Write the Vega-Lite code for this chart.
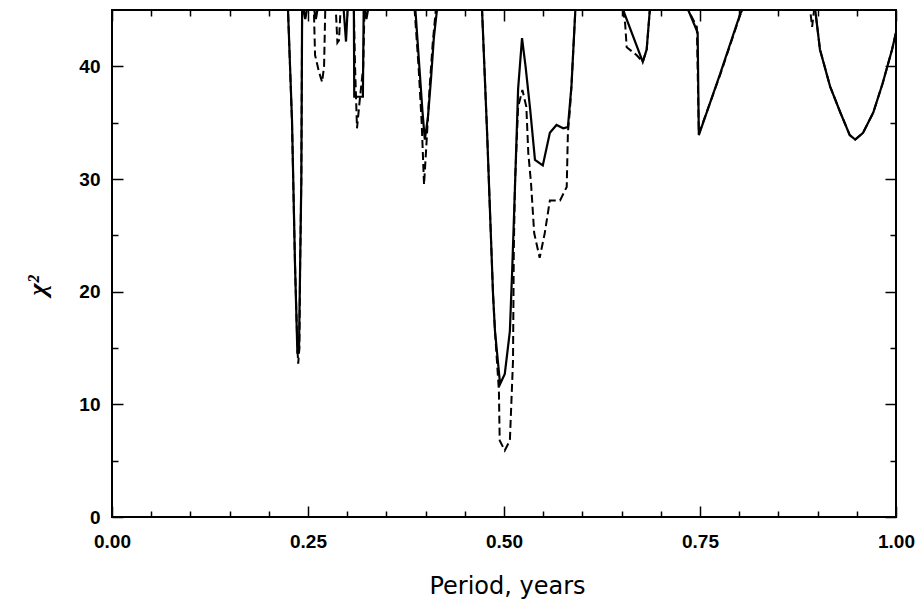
{
  "$schema": "https://vega.github.io/schema/vega-lite/v6.json",
  "description": "Chi-squared versus trial period for two fits (solid and dashed).",
  "width": 784,
  "height": 507,
  "autosize": "none",
  "padding": {"left": 112, "top": 10, "right": 21, "bottom": 85},
  "background": "white",
  "config": {
    "view": {"stroke": "black", "strokeWidth": 2},
    "axis": {
      "domain": false,
      "grid": false,
      "tickColor": "black",
      "tickWidth": 1.5,
      "labelFont": "Liberation Sans",
      "labelFontWeight": "bold",
      "labelFontSize": 19,
      "labelColor": "black",
      "titleColor": "black"
    }
  },
  "data": {
    "values": [
      {"period": 0, "chi2": 45, "curve": "solid"},
      {"period": 0.2245, "chi2": 45, "curve": "solid"},
      {"period": 0.2296, "chi2": 35.2, "curve": "solid"},
      {"period": 0.2334, "chi2": 22.5, "curve": "solid"},
      {"period": 0.2365, "chi2": 14.5, "curve": "solid"},
      {"period": 0.2385, "chi2": 14.8, "curve": "solid"},
      {"period": 0.24, "chi2": 22.5, "curve": "solid"},
      {"period": 0.2415, "chi2": 30, "curve": "solid"},
      {"period": 0.2425, "chi2": 45, "curve": "solid"},
      {"period": 0.2445, "chi2": 45, "curve": "solid"},
      {"period": 0.2465, "chi2": 44.2, "curve": "solid"},
      {"period": 0.2485, "chi2": 45, "curve": "solid"},
      {"period": 0.258, "chi2": 45, "curve": "solid"},
      {"period": 0.26, "chi2": 44.2, "curve": "solid"},
      {"period": 0.262, "chi2": 45, "curve": "solid"},
      {"period": 0.2955, "chi2": 45, "curve": "solid"},
      {"period": 0.2985, "chi2": 42.2, "curve": "solid"},
      {"period": 0.3005, "chi2": 45, "curve": "solid"},
      {"period": 0.3085, "chi2": 45, "curve": "solid"},
      {"period": 0.309, "chi2": 37.3, "curve": "solid"},
      {"period": 0.32, "chi2": 37.3, "curve": "solid"},
      {"period": 0.321, "chi2": 45, "curve": "solid"},
      {"period": 0.3225, "chi2": 45, "curve": "solid"},
      {"period": 0.3245, "chi2": 44.2, "curve": "solid"},
      {"period": 0.3265, "chi2": 45, "curve": "solid"},
      {"period": 0.387, "chi2": 45, "curve": "solid"},
      {"period": 0.392, "chi2": 40, "curve": "solid"},
      {"period": 0.396, "chi2": 36, "curve": "solid"},
      {"period": 0.399, "chi2": 33.5, "curve": "solid"},
      {"period": 0.403, "chi2": 35.5, "curve": "solid"},
      {"period": 0.407, "chi2": 39, "curve": "solid"},
      {"period": 0.4105, "chi2": 42.5, "curve": "solid"},
      {"period": 0.4145, "chi2": 45, "curve": "solid"},
      {"period": 0.472, "chi2": 45, "curve": "solid"},
      {"period": 0.4785, "chi2": 34, "curve": "solid"},
      {"period": 0.486, "chi2": 19.8, "curve": "solid"},
      {"period": 0.4885, "chi2": 16.5, "curve": "solid"},
      {"period": 0.495, "chi2": 11.8, "curve": "solid"},
      {"period": 0.501, "chi2": 12.7, "curve": "solid"},
      {"period": 0.5075, "chi2": 16.5, "curve": "solid"},
      {"period": 0.5105, "chi2": 22, "curve": "solid"},
      {"period": 0.514, "chi2": 29.3, "curve": "solid"},
      {"period": 0.518, "chi2": 38, "curve": "solid"},
      {"period": 0.523, "chi2": 42.5, "curve": "solid"},
      {"period": 0.5275, "chi2": 40, "curve": "solid"},
      {"period": 0.5335, "chi2": 36.1, "curve": "solid"},
      {"period": 0.5395, "chi2": 31.7, "curve": "solid"},
      {"period": 0.5495, "chi2": 31.2, "curve": "solid"},
      {"period": 0.5585, "chi2": 34.1, "curve": "solid"},
      {"period": 0.567, "chi2": 34.8, "curve": "solid"},
      {"period": 0.5755, "chi2": 34.5, "curve": "solid"},
      {"period": 0.5815, "chi2": 34.6, "curve": "solid"},
      {"period": 0.586, "chi2": 38.2, "curve": "solid"},
      {"period": 0.591, "chi2": 45, "curve": "solid"},
      {"period": 0.652, "chi2": 45, "curve": "solid"},
      {"period": 0.677, "chi2": 40.4, "curve": "solid"},
      {"period": 0.682, "chi2": 41.5, "curve": "solid"},
      {"period": 0.686, "chi2": 45, "curve": "solid"},
      {"period": 0.735, "chi2": 45, "curve": "solid"},
      {"period": 0.747, "chi2": 43, "curve": "solid"},
      {"period": 0.7485, "chi2": 33.9, "curve": "solid"},
      {"period": 0.776, "chi2": 39.4, "curve": "solid"},
      {"period": 0.8015, "chi2": 44.7, "curve": "solid"},
      {"period": 0.804, "chi2": 45, "curve": "solid"},
      {"period": 0.897, "chi2": 45, "curve": "solid"},
      {"period": 0.903, "chi2": 41.5, "curve": "solid"},
      {"period": 0.916, "chi2": 38.2, "curve": "solid"},
      {"period": 0.929, "chi2": 35.9, "curve": "solid"},
      {"period": 0.941, "chi2": 33.9, "curve": "solid"},
      {"period": 0.948, "chi2": 33.5, "curve": "solid"},
      {"period": 0.958, "chi2": 34.1, "curve": "solid"},
      {"period": 0.971, "chi2": 35.9, "curve": "solid"},
      {"period": 0.983, "chi2": 38.5, "curve": "solid"},
      {"period": 0.995, "chi2": 41.5, "curve": "solid"},
      {"period": 1.0, "chi2": 43, "curve": "solid"},

      {"period": 0, "chi2": 45, "curve": "dashed"},
      {"period": 0.2245, "chi2": 45, "curve": "dashed"},
      {"period": 0.2296, "chi2": 35, "curve": "dashed"},
      {"period": 0.2334, "chi2": 22.5, "curve": "dashed"},
      {"period": 0.2365, "chi2": 15, "curve": "dashed"},
      {"period": 0.2375, "chi2": 13.6, "curve": "dashed"},
      {"period": 0.239, "chi2": 15, "curve": "dashed"},
      {"period": 0.24, "chi2": 22.5, "curve": "dashed"},
      {"period": 0.2415, "chi2": 30, "curve": "dashed"},
      {"period": 0.2425, "chi2": 45, "curve": "dashed"},
      {"period": 0.2575, "chi2": 45, "curve": "dashed"},
      {"period": 0.259, "chi2": 41, "curve": "dashed"},
      {"period": 0.264, "chi2": 39.5, "curve": "dashed"},
      {"period": 0.268, "chi2": 38.6, "curve": "dashed"},
      {"period": 0.2705, "chi2": 40, "curve": "dashed"},
      {"period": 0.272, "chi2": 45, "curve": "dashed"},
      {"period": 0.2855, "chi2": 45, "curve": "dashed"},
      {"period": 0.2875, "chi2": 42.1, "curve": "dashed"},
      {"period": 0.2895, "chi2": 42.3, "curve": "dashed"},
      {"period": 0.2915, "chi2": 45, "curve": "dashed"},
      {"period": 0.3085, "chi2": 45, "curve": "dashed"},
      {"period": 0.31, "chi2": 40, "curve": "dashed"},
      {"period": 0.3125, "chi2": 34.5, "curve": "dashed"},
      {"period": 0.316, "chi2": 37, "curve": "dashed"},
      {"period": 0.3205, "chi2": 40, "curve": "dashed"},
      {"period": 0.322, "chi2": 45, "curve": "dashed"},
      {"period": 0.386, "chi2": 45, "curve": "dashed"},
      {"period": 0.391, "chi2": 40, "curve": "dashed"},
      {"period": 0.395, "chi2": 35, "curve": "dashed"},
      {"period": 0.398, "chi2": 29.5, "curve": "dashed"},
      {"period": 0.401, "chi2": 33, "curve": "dashed"},
      {"period": 0.405, "chi2": 38, "curve": "dashed"},
      {"period": 0.409, "chi2": 42, "curve": "dashed"},
      {"period": 0.413, "chi2": 45, "curve": "dashed"},
      {"period": 0.472, "chi2": 45, "curve": "dashed"},
      {"period": 0.4785, "chi2": 34, "curve": "dashed"},
      {"period": 0.486, "chi2": 19.8, "curve": "dashed"},
      {"period": 0.4885, "chi2": 16.5, "curve": "dashed"},
      {"period": 0.4935, "chi2": 11.2, "curve": "dashed"},
      {"period": 0.4945, "chi2": 6.8, "curve": "dashed"},
      {"period": 0.501, "chi2": 5.9, "curve": "dashed"},
      {"period": 0.5075, "chi2": 6.8, "curve": "dashed"},
      {"period": 0.5115, "chi2": 13.9, "curve": "dashed"},
      {"period": 0.5125, "chi2": 23.7, "curve": "dashed"},
      {"period": 0.514, "chi2": 29.6, "curve": "dashed"},
      {"period": 0.518, "chi2": 36.4, "curve": "dashed"},
      {"period": 0.5235, "chi2": 37.9, "curve": "dashed"},
      {"period": 0.5285, "chi2": 36.4, "curve": "dashed"},
      {"period": 0.531, "chi2": 32.3, "curve": "dashed"},
      {"period": 0.5345, "chi2": 29.6, "curve": "dashed"},
      {"period": 0.5385, "chi2": 25.2, "curve": "dashed"},
      {"period": 0.5455, "chi2": 23, "curve": "dashed"},
      {"period": 0.552, "chi2": 25.2, "curve": "dashed"},
      {"period": 0.5585, "chi2": 28.1, "curve": "dashed"},
      {"period": 0.5715, "chi2": 28.1, "curve": "dashed"},
      {"period": 0.58, "chi2": 29.3, "curve": "dashed"},
      {"period": 0.5815, "chi2": 34.1, "curve": "dashed"},
      {"period": 0.584, "chi2": 36.1, "curve": "dashed"},
      {"period": 0.586, "chi2": 38.2, "curve": "dashed"},
      {"period": 0.591, "chi2": 45, "curve": "dashed"},
      {"period": 0.652, "chi2": 45, "curve": "dashed"},
      {"period": 0.6545, "chi2": 43.8, "curve": "dashed"},
      {"period": 0.6565, "chi2": 41.7, "curve": "dashed"},
      {"period": 0.669, "chi2": 41, "curve": "dashed"},
      {"period": 0.677, "chi2": 40.4, "curve": "dashed"},
      {"period": 0.682, "chi2": 41.5, "curve": "dashed"},
      {"period": 0.686, "chi2": 45, "curve": "dashed"},
      {"period": 0.735, "chi2": 45, "curve": "dashed"},
      {"period": 0.746, "chi2": 43.5, "curve": "dashed"},
      {"period": 0.7485, "chi2": 34, "curve": "dashed"},
      {"period": 0.776, "chi2": 39.3, "curve": "dashed"},
      {"period": 0.801, "chi2": 44.5, "curve": "dashed"},
      {"period": 0.804, "chi2": 45, "curve": "dashed"},
      {"period": 0.8905, "chi2": 45, "curve": "dashed"},
      {"period": 0.893, "chi2": 43.5, "curve": "dashed"},
      {"period": 0.8955, "chi2": 45, "curve": "dashed"},
      {"period": 0.897, "chi2": 45, "curve": "dashed"},
      {"period": 0.903, "chi2": 41.5, "curve": "dashed"},
      {"period": 0.916, "chi2": 38.2, "curve": "dashed"},
      {"period": 0.929, "chi2": 35.9, "curve": "dashed"},
      {"period": 0.941, "chi2": 33.9, "curve": "dashed"},
      {"period": 0.948, "chi2": 33.5, "curve": "dashed"},
      {"period": 0.958, "chi2": 34.1, "curve": "dashed"},
      {"period": 0.971, "chi2": 35.9, "curve": "dashed"},
      {"period": 0.983, "chi2": 38.5, "curve": "dashed"},
      {"period": 0.995, "chi2": 41.5, "curve": "dashed"},
      {"period": 1.0, "chi2": 43, "curve": "dashed"}
    ]
  },
  "resolve": {"axis": {"x": "independent", "y": "independent"}},
  "layer": [
    {
      "transform": [{"filter": "datum.curve === 'dashed'"}],
      "mark": {"type": "line", "color": "black", "strokeWidth": 2, "strokeDash": [8, 4], "clip": true},
      "encoding": {
        "x": {
          "field": "period", "type": "quantitative",
          "scale": {"domain": [0, 1], "nice": false, "zero": false},
          "axis": {
            "orient": "bottom", "values": [0, 0.25, 0.5, 0.75, 1], "format": ".2f",
            "tickSize": -11, "labelPadding": 26, "labelFlush": false,
            "title": "Period, years", "titleFont": "DejaVu Sans", "titleFontSize": 24,
            "titleFontWeight": "normal", "titleX": 395, "titleY": 76,
            "titleBaseline": "alphabetic", "titleAlign": "center", "titleAnchor": null
          }
        },
        "y": {
          "field": "chi2", "type": "quantitative",
          "scale": {"domain": [0, 45], "nice": false, "zero": false},
          "axis": {
            "orient": "left", "values": [0, 10, 20, 30, 40],
            "tickSize": -11, "labelPadding": 23,
            "title": "χ²", "titleFont": "Liberation Serif", "titleFontStyle": "italic",
            "titleFontWeight": "bold", "titleFontSize": 26, "titleAngle": -90,
            "titleX": -75, "titleY": 275, "titleAlign": "center", "titleBaseline": "middle"
          }
        }
      }
    },
    {
      "transform": [{"filter": "datum.curve === 'solid'"}],
      "mark": {"type": "line", "color": "black", "strokeWidth": 2.2, "clip": true},
      "encoding": {
        "x": {
          "field": "period", "type": "quantitative",
          "axis": {"orient": "top", "values": [0, 0.25, 0.5, 0.75, 1], "tickSize": -11, "labels": false, "title": null}
        },
        "y": {
          "field": "chi2", "type": "quantitative",
          "axis": {"orient": "right", "values": [0, 10, 20, 30, 40], "tickSize": -11, "labels": false, "title": null}
        }
      }
    },
    {
      "mark": {"type": "line", "opacity": 0},
      "encoding": {
        "x": {
          "field": "period", "type": "quantitative",
          "axis": {"orient": "bottom", "values": [0.05, 0.1, 0.15, 0.2, 0.3, 0.35, 0.4, 0.45, 0.55, 0.6, 0.65, 0.7, 0.8, 0.85, 0.9, 0.95], "tickSize": -6, "labels": false, "title": null}
        },
        "y": {
          "field": "chi2", "type": "quantitative",
          "axis": {"orient": "left", "values": [5, 15, 25, 35], "tickSize": -6, "labels": false, "title": null}
        }
      }
    },
    {
      "mark": {"type": "line", "opacity": 0},
      "encoding": {
        "x": {
          "field": "period", "type": "quantitative",
          "axis": {"orient": "top", "values": [0.05, 0.1, 0.15, 0.2, 0.3, 0.35, 0.4, 0.45, 0.55, 0.6, 0.65, 0.7, 0.8, 0.85, 0.9, 0.95], "tickSize": -6, "labels": false, "title": null}
        },
        "y": {
          "field": "chi2", "type": "quantitative",
          "axis": {"orient": "right", "values": [5, 15, 25, 35], "tickSize": -6, "labels": false, "title": null}
        }
      }
    }
  ]
}
